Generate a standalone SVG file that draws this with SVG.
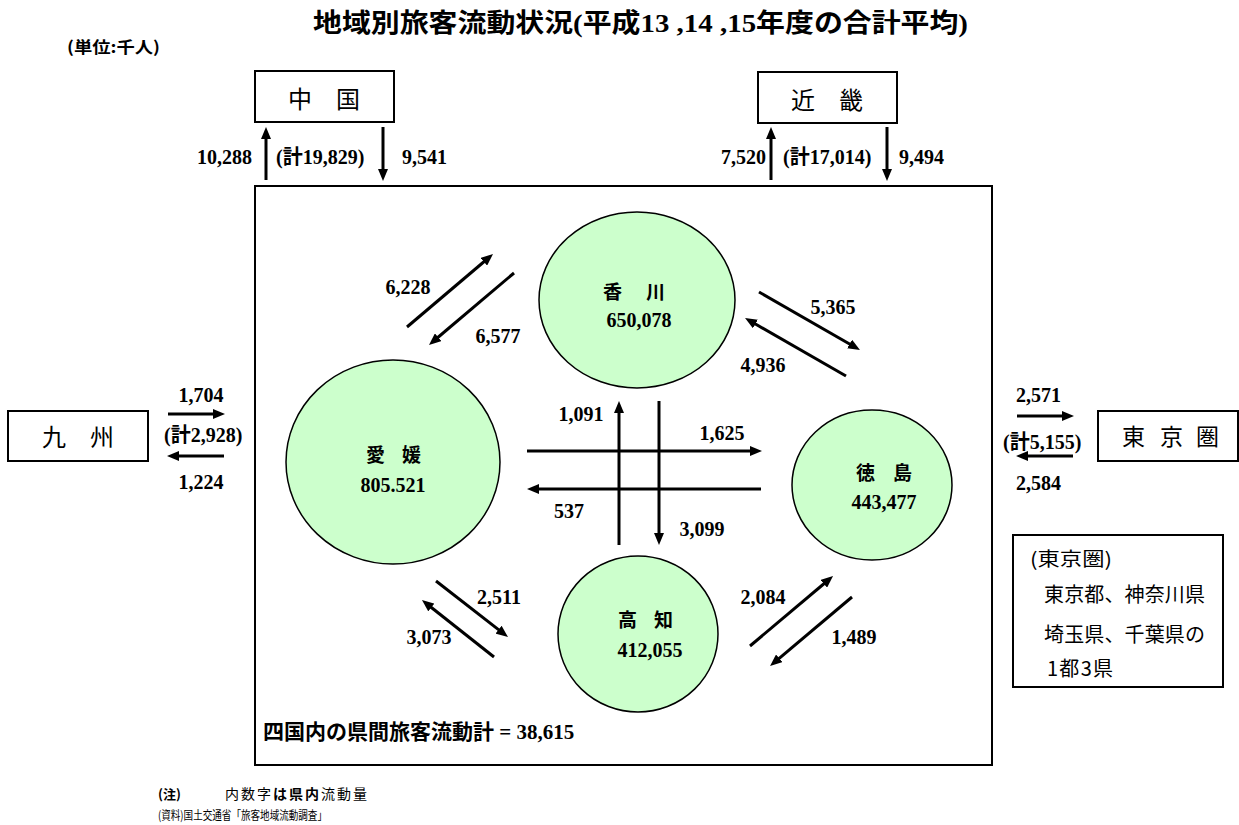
<svg xmlns="http://www.w3.org/2000/svg" width="1239" height="825" viewBox="0 0 1239 825">
<style>
.num{font-family:"Liberation Serif","Noto Sans CJK JP",serif;font-weight:bold;font-size:20px;fill:#000}
.jp{font-family:"Noto Sans CJK JP",sans-serif;fill:#000}
.jpb{font-family:"Noto Sans CJK JP",sans-serif;font-weight:bold;fill:#000}
.box{fill:#fff;stroke:#000;stroke-width:2}
.pref{fill:#ccffcc;stroke:#000;stroke-width:1.5}
.arr{stroke:#000;stroke-width:3;fill:none;marker-end:url(#ah)}
</style>
<defs>
<marker id="ah" viewBox="0 0 12 10" refX="2" refY="5" markerWidth="12" markerHeight="10" markerUnits="userSpaceOnUse" orient="auto"><path d="M0,0 L12,5 L0,10 z" fill="#000"/></marker>
</defs>
<rect width="1239" height="825" fill="#fff"/>
<text x="313" y="32" textLength="655" lengthAdjust="spacingAndGlyphs" class="num" style="font-size:26px">地域別旅客流動状況(平成13 ,14 ,15年度の合計平均)</text>
<text x="67" y="53" textLength="93" lengthAdjust="spacingAndGlyphs" class="jpb" style="font-size:16px">(単位:千人)</text>

<rect id="mainframe" x="255" y="186" width="737" height="579" fill="none" stroke="#000" stroke-width="2"/>

<g id="chugoku"><rect class="box" x="255" y="71" width="139" height="51"/><text x="324" y="108" text-anchor="middle" class="jp" style="font-size:24px">中　国</text></g>
<g id="kinki"><rect class="box" x="758" y="72" width="139" height="51"/><text x="827" y="109" text-anchor="middle" class="jp" style="font-size:24px">近　畿</text></g>
<g id="kyushu"><rect class="box" x="8" y="411" width="140" height="50"/><text x="78" y="446" text-anchor="middle" class="jp" style="font-size:24px">九　州</text></g>
<g id="tokyo"><rect class="box" x="1098" y="411" width="140" height="50"/><text x="1122 1160 1196" y="445" class="jp" style="font-size:23px">東京圏</text></g>

<g id="kagawa"><ellipse class="pref" cx="637" cy="300" rx="98" ry="88"/><text x="603 646" y="299" class="jpb" style="font-size:19px">香川</text><text x="639" y="327" text-anchor="middle" class="num">650,078</text></g>
<g id="ehime"><ellipse class="pref" cx="393" cy="462" rx="107" ry="102"/><text x="366 402" y="462" class="jpb" style="font-size:19px">愛媛</text><text x="393" y="492" text-anchor="middle" class="num">805.521</text></g>
<g id="tokushima"><ellipse class="pref" cx="872" cy="485" rx="80" ry="75"/><text x="856 893" y="480" class="jpb" style="font-size:19px">徳島</text><text x="884" y="509" text-anchor="middle" class="num">443,477</text></g>
<g id="kochi"><ellipse class="pref" cx="638" cy="634" rx="80" ry="78"/><text x="618 654" y="627" class="jpb" style="font-size:19px">高知</text><text x="650" y="657" text-anchor="middle" class="num">412,055</text></g>

<g id="legend"><rect class="box" x="1013" y="535" width="210" height="152"/>
<text x="1030" y="566" textLength="82" lengthAdjust="spacingAndGlyphs" class="jp" style="font-size:19px">(東京圏)</text>
<text x="1044" y="602" textLength="161" class="jp" style="font-size:20px">東京都、神奈川県</text>
<text x="1044" y="642" textLength="161" class="jp" style="font-size:20px">埼玉県、千葉県の</text>
<text x="1047" y="676" textLength="66" class="jp" style="font-size:20px">1都3県</text></g>

<g id="connectors">
<line class="arr" x1="266" y1="180" x2="266" y2="137"/>
<line class="arr" x1="383" y1="127" x2="383" y2="171"/>
<line class="arr" x1="771" y1="180" x2="771" y2="137"/>
<line class="arr" x1="887" y1="127" x2="887" y2="171"/>
<line class="arr" x1="168" y1="414" x2="215" y2="414"/>
<line class="arr" x1="224" y1="456" x2="177" y2="456"/>
<line class="arr" x1="1017" y1="416" x2="1064" y2="416"/>
<line class="arr" x1="1073" y1="456" x2="1026" y2="456"/>
<line class="arr" x1="407" y1="327" x2="485.4" y2="260.5"/>
<line class="arr" x1="514" y1="273" x2="436.6" y2="338.5"/>
<line class="arr" x1="759" y1="292" x2="851.3" y2="345"/>
<line class="arr" x1="846" y1="376" x2="753.7" y2="323"/>
<line class="arr" x1="619" y1="545" x2="619" y2="411"/>
<line class="arr" x1="659" y1="401" x2="659" y2="535"/>
<line class="arr" x1="527" y1="451" x2="752" y2="451"/>
<line class="arr" x1="761" y1="489" x2="537" y2="489"/>
<line class="arr" x1="436" y1="581" x2="500.1" y2="630.9"/>
<line class="arr" x1="494" y1="657" x2="429.8" y2="606.2"/>
<line class="arr" x1="750" y1="646" x2="825.4" y2="582.5"/>
<line class="arr" x1="852" y1="597" x2="777.7" y2="659.6"/>
</g>

<g id="labels">
<text x="252" y="164" text-anchor="end" class="num">10,288</text>
<text x="276" y="164" class="num">(計19,829)</text>
<text x="402" y="164" class="num">9,541</text>
<text x="766" y="164" text-anchor="end" class="num">7,520</text>
<text x="783" y="164" class="num">(計17,014)</text>
<text x="899" y="164" class="num">9,494</text>
<text x="201" y="402" text-anchor="middle" class="num">1,704</text>
<text x="164" y="442" class="num">(計2,928)</text>
<text x="201" y="489" text-anchor="middle" class="num">1,224</text>
<text x="1016" y="402" class="num">2,571</text>
<text x="1003" y="449" class="num">(計5,155)</text>
<text x="1016" y="490" class="num">2,584</text>
<text x="408" y="294" text-anchor="middle" class="num">6,228</text>
<text x="498" y="343" text-anchor="middle" class="num">6,577</text>
<text x="833" y="314" text-anchor="middle" class="num">5,365</text>
<text x="763" y="372" text-anchor="middle" class="num">4,936</text>
<text x="581" y="421" text-anchor="middle" class="num">1,091</text>
<text x="722" y="440" text-anchor="middle" class="num">1,625</text>
<text x="569" y="518" text-anchor="middle" class="num">537</text>
<text x="702" y="536" text-anchor="middle" class="num">3,099</text>
<text x="499" y="604" text-anchor="middle" class="num">2,511</text>
<text x="429" y="644" text-anchor="middle" class="num">3,073</text>
<text x="763" y="604" text-anchor="middle" class="num">2,084</text>
<text x="854" y="644" text-anchor="middle" class="num">1,489</text>
</g>

<text x="263" y="739" class="num" style="font-size:21px">四国内の県間旅客流動計 = 38,615</text>

<text x="158" y="799" class="jpb" style="font-size:13px">(注)</text>
<text x="225" y="799" textLength="142" class="jp" style="font-size:14px">内数字<tspan class="jpb">は県内</tspan>流動量</text>
<text x="158" y="820" textLength="169" lengthAdjust="spacingAndGlyphs" class="jp" style="font-size:12px">(資料)国土交通省「旅客地域流動調査」</text>
</svg>
